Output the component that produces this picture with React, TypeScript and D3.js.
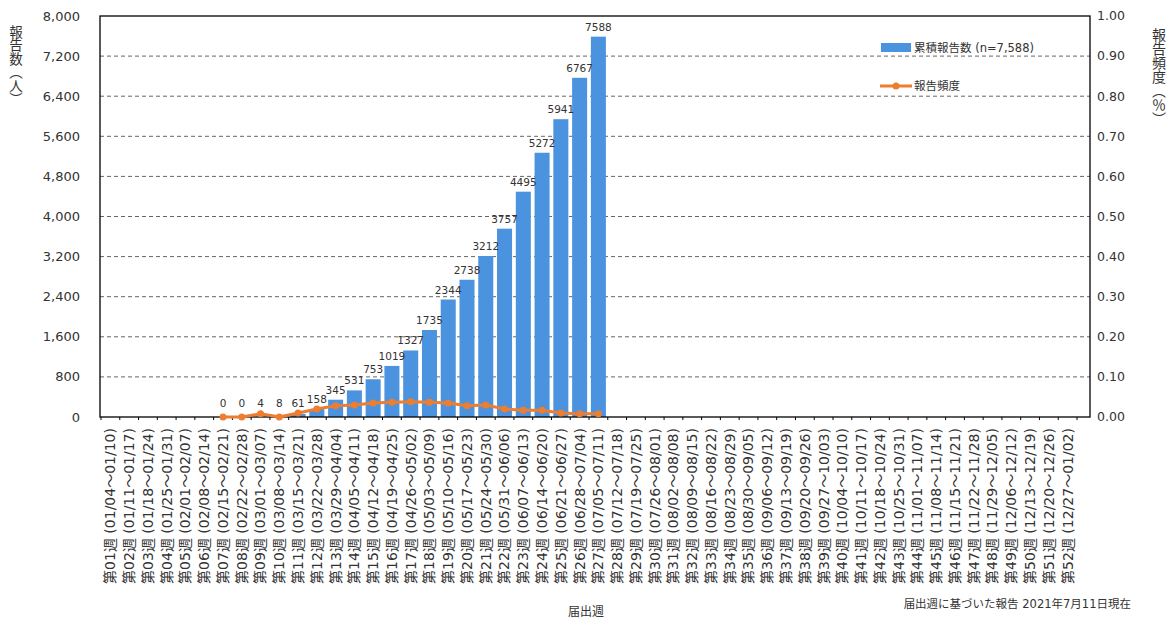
import React, { useRef, useEffect } from 'react';
import * as d3 from 'd3';

// 届出週 (2021)
const weekNames = d3.range(1, 53).map(n => `第${String(n).padStart(2, '0')}週`);
const weekRanges = [
  '01/04～01/10', '01/11～01/17', '01/18～01/24', '01/25～01/31', '02/01～02/07',
  '02/08～02/14', '02/15～02/21', '02/22～02/28', '03/01～03/07', '03/08～03/14',
  '03/15～03/21', '03/22～03/28', '03/29～04/04', '04/05～04/11', '04/12～04/18',
  '04/19～04/25', '04/26～05/02', '05/03～05/09', '05/10～05/16', '05/17～05/23',
  '05/24～05/30', '05/31～06/06', '06/07～06/13', '06/14～06/20', '06/21～06/27',
  '06/28～07/04', '07/05～07/11', '07/12～07/18', '07/19～07/25', '07/26～08/01',
  '08/02～08/08', '08/09～08/15', '08/16～08/22', '08/23～08/29', '08/30～09/05',
  '09/06～09/12', '09/13～09/19', '09/20～09/26', '09/27～10/03', '10/04～10/10',
  '10/11～10/17', '10/18～10/24', '10/25～10/31', '11/01～11/07', '11/08～11/14',
  '11/15～11/21', '11/22～11/28', '11/29～12/05', '12/06～12/12', '12/13～12/19',
  '12/20～12/26', '12/27～01/02',
];

// data starts at week 7
const firstDataWeek = 7;
const cumulative = [0, 0, 4, 8, 61, 158, 345, 531, 753, 1019, 1327, 1735, 2344, 2738, 3212, 3757, 4495, 5272, 5941, 6767, 7588];
const frequency = [0, 0, 0.008, 0, 0.01, 0.02, 0.028, 0.03, 0.035, 0.037, 0.038, 0.037, 0.035, 0.028, 0.03, 0.02, 0.017, 0.017, 0.01, 0.008, 0.008];

const leftTicks = d3.range(0, 8001, 800);
const rightTicks = d3.range(0, 11).map(i => i / 10);

const FONT = '"DejaVu Sans", "Noto Sans CJK JP", sans-serif';
const BAR = '#4b93de';
const LINE = '#ed7d31';

const Chart: React.FC = () => {
  const svgRef = useRef<SVGSVGElement | null>(null);

  useEffect(() => {
    if (!svgRef.current) return;
    const svg = d3.select(svgRef.current);
    svg.selectAll('*').remove();

    const plot = { left: 100, right: 1090, top: 16, bottom: 417 };

    const x = d3.scaleBand<number>()
      .domain(d3.range(52))
      .range([101, 1077])
      .paddingInner(0.2)
      .paddingOuter(0.1);
    const step = x.step();
    const cx = (i: number) => x(i)! + x.bandwidth() / 2;

    const yL = d3.scaleLinear().domain([0, 8000]).range([plot.bottom, plot.top]);
    const yR = d3.scaleLinear().domain([0, 1]).range([plot.bottom, plot.top]);

    // gridlines
    svg.append('g')
      .selectAll('line')
      .data(leftTicks.slice(1, -1))
      .join('line')
      .attr('x1', plot.left).attr('x2', plot.right)
      .attr('y1', d => yL(d)).attr('y2', d => yL(d))
      .attr('stroke', '#666')
      .attr('stroke-width', 1)
      .attr('stroke-dasharray', '4,3');

    // bars
    const barData = cumulative.map((v, i) => ({ i: i + firstDataWeek - 1, v }));
    svg.append('g')
      .selectAll('rect')
      .data(barData)
      .join('rect')
      .attr('x', d => x(d.i)!)
      .attr('width', x.bandwidth())
      .attr('y', d => yL(d.v))
      .attr('height', d => plot.bottom - yL(d.v))
      .attr('fill', BAR);

    // bar labels
    svg.append('g')
      .selectAll('text')
      .data(barData)
      .join('text')
      .attr('x', d => cx(d.i))
      .attr('y', d => Math.min(yL(d.v), plot.bottom - 4) - 6)
      .attr('text-anchor', 'middle')
      .attr('font-family', FONT)
      .attr('font-size', 10.5)
      .attr('fill', '#333')
      .text(d => d.v);

    // frame
    svg.append('rect')
      .attr('x', plot.left).attr('y', plot.top)
      .attr('width', plot.right - plot.left)
      .attr('height', plot.bottom - plot.top)
      .attr('fill', 'none')
      .attr('stroke', '#000')
      .attr('stroke-width', 1.3);

    // minor ticks on category axis
    svg.append('g')
      .selectAll('line')
      .data(d3.range(53))
      .join('line')
      .attr('x1', i => 101 + i * step).attr('x2', i => 101 + i * step)
      .attr('y1', plot.bottom).attr('y2', plot.bottom + 3)
      .attr('stroke', '#000');

    // line series
    const lineData = frequency.map((v, i) => ({ i: i + firstDataWeek - 1, v }));
    const line = d3.line<{ i: number; v: number }>()
      .x(d => cx(d.i))
      .y(d => yR(d.v));
    svg.append('path')
      .datum(lineData)
      .attr('d', line)
      .attr('fill', 'none')
      .attr('stroke', LINE)
      .attr('stroke-width', 3);
    svg.append('g')
      .selectAll('circle')
      .data(lineData)
      .join('circle')
      .attr('cx', d => cx(d.i))
      .attr('cy', d => yR(d.v))
      .attr('r', 3.5)
      .attr('fill', LINE);

    // left axis labels
    svg.append('g')
      .selectAll('text')
      .data(leftTicks)
      .join('text')
      .attr('x', 80)
      .attr('y', d => yL(d))
      .attr('dy', '0.35em')
      .attr('text-anchor', 'end')
      .attr('font-family', FONT)
      .attr('font-size', 13)
      .attr('fill', '#333')
      .text(d => d3.format(',')(d));

    // right axis labels
    svg.append('g')
      .selectAll('text')
      .data(rightTicks)
      .join('text')
      .attr('x', 1097)
      .attr('y', d => yR(d))
      .attr('dy', '0.35em')
      .attr('text-anchor', 'start')
      .attr('font-family', FONT)
      .attr('font-size', 12.5)
      .attr('fill', '#333')
      .text(d => d3.format('.2f')(d));

    // axis titles (vertical writing)
    svg.append('text')
      .attr('x', 15).attr('y', 25)
      .attr('font-family', FONT)
      .attr('font-size', 13.5)
      .attr('fill', '#333')
      .style('writing-mode', 'vertical-rl')
      .text('報告数（人）');
    svg.append('text')
      .attr('x', 1158).attr('y', 28)
      .attr('font-family', FONT)
      .attr('font-size', 14)
      .attr('fill', '#333')
      .style('writing-mode', 'vertical-rl')
      .text('報告頻度（％）');

    // category labels
    svg.append('g')
      .selectAll('text')
      .data(d3.range(52))
      .join('text')
      .attr('transform', i => `translate(${cx(i)},428) rotate(-90)`)
      .attr('dy', '0.35em')
      .attr('text-anchor', 'end')
      .attr('font-family', FONT)
      .attr('font-size', 14)
      .attr('fill', '#333')
      .text(i => `${weekNames[i]} (${weekRanges[i]})`);

    // x title + note
    svg.append('text')
      .attr('x', 586).attr('y', 616)
      .attr('text-anchor', 'middle')
      .attr('font-family', FONT)
      .attr('font-size', 12)
      .attr('fill', '#333')
      .text('届出週');
    svg.append('text')
      .attr('x', 1131).attr('y', 608)
      .attr('text-anchor', 'end')
      .attr('font-family', FONT)
      .attr('font-size', 11.5)
      .attr('fill', '#333')
      .text('届出週に基づいた報告 2021年7月11日現在');

    // legend
    const lg = svg.append('g');
    lg.append('rect')
      .attr('x', 881).attr('y', 43).attr('width', 30).attr('height', 9)
      .attr('fill', BAR);
    lg.append('text')
      .attr('x', 914).attr('y', 48).attr('dy', '0.35em')
      .attr('font-family', FONT).attr('font-size', 11.5).attr('fill', '#333')
      .text('累積報告数 (n=7,588)');
    lg.append('line')
      .attr('x1', 880).attr('x2', 912).attr('y1', 86).attr('y2', 86)
      .attr('stroke', LINE).attr('stroke-width', 3);
    lg.append('circle')
      .attr('cx', 896).attr('cy', 86).attr('r', 3.5).attr('fill', LINE);
    lg.append('text')
      .attr('x', 914).attr('y', 86).attr('dy', '0.35em')
      .attr('font-family', FONT).attr('font-size', 11.5).attr('fill', '#333')
      .text('報告頻度');

    return () => {
      d3.select(svgRef.current).selectAll('*').remove();
    };
  }, []);

  return (
    <svg
      ref={svgRef}
      width={1174}
      height={628}
      style={{ position: 'fixed', top: 0, left: 0, background: '#fff' }}
    />
  );
};

export default function App() {
  return <Chart />;
}
